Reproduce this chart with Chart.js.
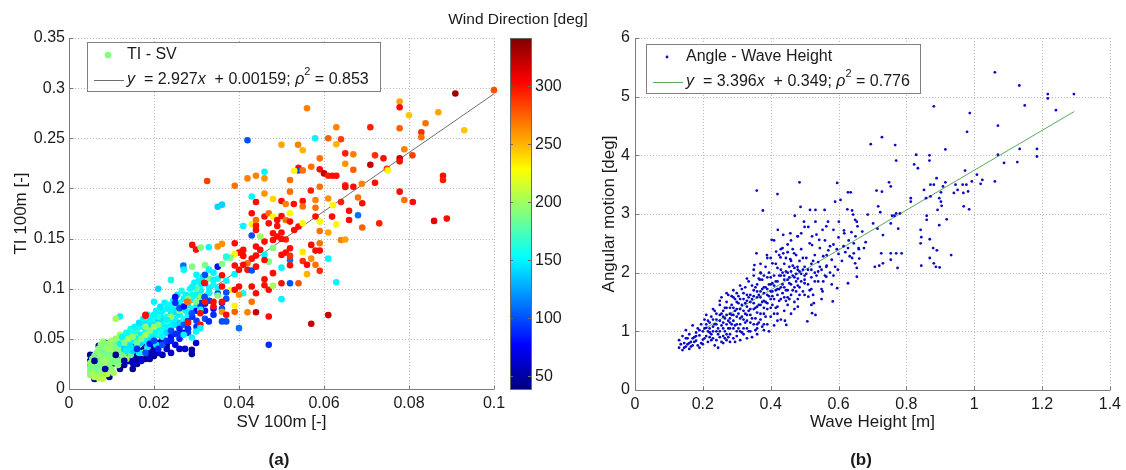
<!DOCTYPE html>
<html><head><meta charset="utf-8">
<script src="https://cdn.jsdelivr.net/npm/chart.js@4.4.1/dist/chart.umd.min.js"></script>
<style>
html,body{margin:0;padding:0;background:#fff;}
#wrap{position:relative;width:1126px;height:470px;overflow:hidden;}
#c1{position:absolute;left:0;top:0;}
#c2{position:absolute;left:590px;top:0;}
</style></head><body>
<div id="wrap"><canvas id="c1" width="590" height="470"></canvas><canvas id="c2" width="536" height="470"></canvas></div>
<script>
// ---- data ----
var svTicks = [0, 0.02, 0.04, 0.06, 0.08, 0.1];
var tiTicks = [0, 0.05, 0.1, 0.15, 0.2, 0.25, 0.3, 0.35];
var dirTicks = [50, 100, 150, 200, 250, 300];
var dirRange = [39, 341];
var waveTicks = [0, 0.2, 0.4, 0.6, 0.8, 1, 1.2, 1.4];
var angleTicks = [0, 1, 2, 3, 4, 5, 6];

// [SV, TI, wind direction]
var tiSvPoints = [
// dark blue along the lower edge
[0.005,0.034,45],[0.005,0.028,50],[0.005,0.024,45],[0.0055,0.020,55],[0.006,0.010,45],[0.0065,0.013,50],
[0.007,0.043,50],[0.007,0.027,55],[0.0075,0.036,45],[0.008,0.025,50],[0.0085,0.046,55],[0.0085,0.016,45],
[0.009,0.040,50],[0.009,0.022,48],[0.0095,0.012,45],[0.010,0.038,55],[0.010,0.024,50],[0.011,0.027,45],
[0.011,0.037,50],[0.012,0.020,45],[0.012,0.032,55],[0.013,0.024,50],[0.013,0.042,55],[0.014,0.028,50],
[0.014,0.036,45],[0.015,0.020,45],[0.015,0.030,55],[0.015,0.044,50],[0.016,0.025,45],[0.016,0.034,50],
[0.017,0.032,50],[0.017,0.040,55],[0.018,0.030,45],[0.018,0.045,50],[0.019,0.036,55],[0.019,0.042,45],
[0.020,0.040,50],[0.020,0.033,45],[0.021,0.046,55],[0.022,0.034,50],[0.022,0.050,45],
[0.015,0.026,60],[0.017,0.028,70],[0.019,0.030,55],[0.021,0.036,65],[0.023,0.040,60],[0.025,0.044,70],
[0.026,0.050,85],[0.028,0.056,95],[0.030,0.062,90],[0.032,0.070,100],[0.024,0.036,60],[0.026,0.040,55],
[0.010,0.040,45],[0.012,0.036,50],[0.016,0.030,50],[0.020,0.036,55],[0.023,0.044,50],
// green cluster near the origin
[0.005,0.014,195],[0.005,0.018,190],[0.005,0.022,185],[0.005,0.026,195],[0.0055,0.016,200],[0.0055,0.030,190],
[0.006,0.012,205],[0.006,0.020,195],[0.006,0.024,190],[0.006,0.033,185],[0.0065,0.015,200],[0.0065,0.028,195],
[0.0065,0.036,190],[0.007,0.011,205],[0.007,0.019,195],[0.007,0.023,190],[0.007,0.031,185],[0.007,0.040,195],
[0.0075,0.014,200],[0.0075,0.026,190],[0.0075,0.035,200],[0.0075,0.044,190],[0.008,0.010,210],[0.008,0.018,195],
[0.008,0.029,190],[0.008,0.038,185],[0.008,0.047,195],[0.0085,0.022,200],[0.0085,0.033,190],[0.0085,0.042,195],
[0.009,0.015,205],[0.009,0.026,195],[0.009,0.036,185],[0.009,0.045,190],[0.0095,0.030,195],[0.0095,0.040,200],
[0.010,0.020,195],[0.010,0.033,190],[0.010,0.044,195],[0.010,0.048,200],[0.0105,0.027,185],[0.0105,0.038,195],
[0.011,0.031,190],[0.011,0.042,195],[0.011,0.046,185],[0.0115,0.035,200],[0.012,0.040,190],[0.012,0.049,195],
[0.012,0.028,185],[0.013,0.044,190],[0.013,0.036,195],[0.014,0.048,190],[0.014,0.040,180],
[0.0105,0.016,200],[0.0115,0.024,195],[0.0125,0.034,190],[0.0135,0.030,200],[0.0145,0.034,185],[0.0155,0.040,195],
[0.0165,0.044,190],[0.0175,0.036,200],[0.0095,0.025,190],[0.0085,0.028,200],[0.0065,0.021,185],[0.0075,0.018,195],
[0.016,0.054,195],[0.014,0.056,190],[0.012,0.054,200],[0.011,0.050,195],
// a few dark blue among the green
[0.006,0.028,45],[0.0085,0.020,50],[0.011,0.034,45],[0.013,0.028,50],
// cyan band
[0.012,0.045,150],[0.013,0.050,160],[0.013,0.040,140],[0.014,0.052,155],[0.014,0.044,145],[0.015,0.048,150],
[0.015,0.056,160],[0.015,0.038,140],[0.016,0.050,150],[0.016,0.058,165],[0.016,0.042,145],[0.017,0.054,150],
[0.017,0.062,155],[0.017,0.046,140],[0.018,0.050,160],[0.018,0.058,150],[0.018,0.066,145],[0.019,0.054,155],
[0.019,0.062,150],[0.019,0.048,140],[0.020,0.058,150],[0.020,0.066,160],[0.020,0.052,145],[0.020,0.072,155],
[0.021,0.060,150],[0.021,0.068,140],[0.021,0.054,160],[0.022,0.064,150],[0.022,0.058,155],[0.022,0.070,145],
[0.022,0.078,150],[0.023,0.062,150],[0.023,0.072,160],[0.023,0.056,140],[0.024,0.066,150],[0.024,0.076,145],
[0.024,0.060,155],[0.025,0.070,150],[0.025,0.082,160],[0.025,0.064,145],[0.026,0.074,150],[0.026,0.086,155],
[0.026,0.066,140],[0.027,0.080,150],[0.027,0.070,160],[0.028,0.084,145],[0.028,0.075,150],[0.029,0.090,150],
[0.029,0.080,155],[0.030,0.094,150],[0.030,0.085,145],[0.031,0.098,150],[0.032,0.090,160],[0.033,0.101,150],
[0.034,0.104,155],
[0.0125,0.052,150],[0.0135,0.056,155],[0.0145,0.060,160],[0.0155,0.062,150],[0.0165,0.066,145],[0.0175,0.070,150],
[0.0185,0.074,155],[0.0195,0.070,160],[0.0205,0.078,150],[0.0215,0.082,145],[0.0225,0.086,150],[0.0235,0.084,155],
[0.0245,0.088,150],[0.0255,0.094,145],[0.0265,0.098,160],[0.0275,0.094,150],[0.0285,0.100,155],[0.0295,0.106,150],
[0.0305,0.108,150],[0.0315,0.112,145],[0.0195,0.064,140],[0.0215,0.074,150],[0.0235,0.066,150],[0.0255,0.076,145],
[0.0275,0.078,150],[0.0135,0.038,150],[0.0145,0.042,145],[0.0165,0.036,150],[0.0185,0.042,150],[0.0205,0.044,145],
[0.019,0.068,150],[0.021,0.072,160],[0.023,0.080,150],[0.025,0.078,145],[0.027,0.090,150],[0.029,0.094,155],
[0.031,0.104,150],[0.033,0.096,145],[0.035,0.100,150],[0.035,0.110,155],[0.037,0.108,150],[0.022,0.052,150],
[0.020,0.056,150],[0.018,0.048,150],
[0.013,0.046,190],[0.014,0.050,200],[0.015,0.052,195],[0.016,0.046,185],[0.017,0.050,190],[0.018,0.054,200],
[0.018,0.062,195],[0.019,0.058,190],[0.020,0.062,200],[0.021,0.064,190],[0.023,0.068,185],[0.024,0.072,195],
[0.026,0.078,190],[0.028,0.090,185],[0.031,0.092,195],[0.030,0.100,180],[0.033,0.110,190],
[0.016,0.040,90],[0.018,0.036,100],[0.019,0.045,80],[0.020,0.048,95],[0.021,0.040,85],[0.022,0.044,100],
[0.023,0.048,90],[0.024,0.052,80],[0.024,0.058,100],[0.025,0.055,90],[0.026,0.060,85],[0.027,0.064,100],
[0.027,0.056,80],[0.028,0.068,95],[0.029,0.072,90],[0.030,0.078,80],[0.031,0.082,100],[0.032,0.085,85],
[0.033,0.088,95],[0.034,0.080,80],[0.035,0.095,90],[0.036,0.086,80],[0.037,0.090,100],
[0.036,0.080,100],[0.034,0.074,90],[0.032,0.078,80],[0.030,0.068,95],[0.028,0.060,100],[0.026,0.054,90],
[0.024,0.048,85],
// upper, sparser part
[0.1,0.298,280],[0.0909,0.2946,330],[0.0778,0.2867,255],[0.0778,0.281,300],[0.080,0.273,245],[0.0869,0.276,255],
[0.093,0.258,245],[0.0839,0.265,270],[0.0829,0.256,290],[0.0829,0.251,270],[0.0778,0.260,275],[0.0709,0.261,295],
[0.056,0.280,265],[0.0629,0.261,265],[0.042,0.248,100],[0.0579,0.250,150],[0.061,0.250,275],[0.064,0.249,285],
[0.050,0.2435,255],[0.0539,0.2435,265],[0.055,0.238,250],[0.0629,0.244,250],[0.0789,0.239,265],[0.072,0.233,290],
[0.074,0.230,300],[0.0778,0.230,320],[0.0778,0.227,300],[0.0808,0.233,285],[0.065,0.235,295],[0.0669,0.234,265],
[0.059,0.230,270],[0.065,0.2246,260],[0.054,0.2206,300],[0.054,0.218,100],[0.053,0.2176,230],[0.055,0.218,270],
[0.0709,0.2236,320],[0.0748,0.2196,290],[0.075,0.218,230],[0.0669,0.2186,275],[0.057,0.2216,270],[0.059,0.219,300],
[0.060,0.215,320],[0.061,0.2127,295],[0.062,0.2127,300],[0.0629,0.2127,300],[0.0325,0.2074,285],[0.039,0.2027,270],
[0.042,0.210,265],[0.044,0.2127,265],[0.046,0.210,260],[0.046,0.2167,150],[0.052,0.2084,270],[0.072,0.2057,300],
[0.0689,0.2047,265],[0.065,0.203,290],[0.065,0.2015,300],[0.0669,0.2017,300],[0.0778,0.1968,300],[0.088,0.2127,300],
[0.088,0.2084,295],[0.0569,0.198,295],[0.059,0.2017,270],[0.052,0.1968,270],[0.046,0.195,260],[0.036,0.1838,140],
[0.043,0.192,150],[0.044,0.1865,300],[0.048,0.1895,240],[0.050,0.1875,300],[0.051,0.1845,265],[0.0529,0.1845,300],
[0.055,0.1875,300],[0.055,0.182,270],[0.058,0.1885,265],[0.061,0.190,260],[0.064,0.1865,295],[0.068,0.191,270],
[0.069,0.1852,300],[0.0789,0.1885,270],[0.0809,0.1865,300],[0.0859,0.1676,310],[0.0889,0.1699,300],[0.073,0.1652,295],
[0.069,0.161,275],[0.068,0.1732,110],[0.0659,0.1778,300],[0.0659,0.1685,300],[0.0621,0.1832,230],[0.0619,0.1719,300],
[0.0629,0.1642,230],[0.058,0.172,300],[0.058,0.1808,270],[0.059,0.1669,230],[0.059,0.1576,270],[0.061,0.156,255],
[0.064,0.1486,265],[0.065,0.149,255],[0.059,0.1453,270],[0.057,0.1437,300],[0.058,0.138,300],[0.059,0.138,300],
[0.055,0.1367,235],[0.057,0.130,260],[0.055,0.1277,290],[0.056,0.1238,300],[0.058,0.1238,270],[0.056,0.1145,250],
[0.059,0.1178,290],[0.061,0.130,150],[0.0629,0.1065,150],[0.054,0.1055,280],[0.052,0.1055,100],[0.050,0.1055,300],
[0.050,0.0896,150],[0.061,0.0737,320],[0.057,0.065,320],[0.047,0.044,90],[0.040,0.0607,110],[0.047,0.0723,300],
[0.044,0.0766,320],[0.042,0.0766,265],[0.043,0.087,270],[0.039,0.077,275],[0.039,0.083,230],[0.038,0.099,230],
[0.039,0.099,300],[0.040,0.1022,300],[0.041,0.0955,160],[0.040,0.094,260],[0.043,0.1022,300],[0.044,0.0955,300],
[0.046,0.1035,300],[0.047,0.099,300],[0.048,0.103,200],[0.046,0.1095,300],[0.048,0.1155,300],[0.050,0.121,150],
[0.050,0.1337,300],[0.051,0.136,300],[0.052,0.1287,110],[0.052,0.1234,300],[0.052,0.1327,290],[0.052,0.1403,300],
[0.051,0.149,295],[0.050,0.1496,300],[0.048,0.1486,300],[0.046,0.147,300],[0.044,0.142,300],[0.045,0.1387,300],
[0.044,0.133,300],[0.043,0.130,300],[0.042,0.1254,270],[0.041,0.1238,300],[0.042,0.1188,300],[0.043,0.1181,100],
[0.044,0.122,300],[0.041,0.1327,300],[0.040,0.136,300],[0.039,0.1453,300],[0.039,0.1347,230],[0.038,0.131,190],
[0.037,0.131,180],[0.039,0.1231,300],[0.039,0.1145,150],[0.040,0.1188,300],[0.036,0.1135,300],[0.035,0.122,80],
[0.035,0.142,260],[0.036,0.1447,260],[0.037,0.132,160],[0.043,0.1642,230],[0.041,0.1626,150],[0.043,0.153,100],
[0.044,0.1586,300],[0.044,0.163,300],[0.044,0.1685,270],[0.043,0.1752,300],[0.046,0.172,300],[0.047,0.1752,270],
[0.048,0.172,230],[0.047,0.1652,300],[0.049,0.1685,300],[0.049,0.1626,300],[0.050,0.1725,300],[0.051,0.1685,270],
[0.052,0.1752,230],[0.052,0.1669,300],[0.053,0.1586,300],[0.054,0.162,300],[0.055,0.1652,230],[0.050,0.156,300],
[0.049,0.152,300],[0.048,0.1553,300],[0.045,0.152,200],[0.048,0.1407,190],[0.046,0.1337,150],[0.047,0.127,190],
[0.046,0.1287,300],[0.041,0.1387,300],[0.036,0.1247,190],[0.036,0.1022,300],[0.035,0.0932,190],[0.037,0.0962,100],
[0.036,0.087,300],[0.034,0.087,300],[0.0329,0.0955,150],[0.0319,0.0916,100],[0.0309,0.0856,90],[0.0309,0.079,150],
[0.0299,0.087,190],[0.028,0.087,260],[0.0289,0.0756,100],[0.0309,0.0756,300],[0.034,0.0823,300],[0.036,0.077,260],
[0.037,0.074,300],[0.036,0.0674,100],[0.037,0.0674,100],[0.0329,0.0674,90],[0.0309,0.064,300],[0.0309,0.0607,150],
[0.0299,0.0458,60],[0.0289,0.039,50],[0.0273,0.040,60],[0.0289,0.0348,50],[0.0289,0.0514,150],[0.028,0.060,90],
[0.027,0.054,150],[0.0299,0.0574,150],[0.029,0.102,150],[0.029,0.1437,300],[0.0299,0.139,300],[0.031,0.141,190],
[0.0329,0.1413,150],[0.035,0.1818,140],[0.0269,0.123,110],[0.027,0.119,150],[0.029,0.122,190],[0.030,0.1138,150],
[0.032,0.1237,190],[0.032,0.1138,100],[0.0329,0.119,150],[0.034,0.116,150],[0.034,0.1088,150],[0.032,0.1055,110],
[0.024,0.1088,160],[0.021,0.100,140],[0.020,0.087,150],[0.012,0.0723,150],[0.011,0.070,200],[0.018,0.073,300],
[0.020,0.074,150],[0.025,0.0916,80],[0.025,0.086,90],[0.026,0.0806,100],[0.027,0.0823,80],[0.024,0.079,150],
[0.023,0.069,150],[0.018,0.074,300],[0.0278,0.087,270],[0.028,0.066,300],[0.032,0.087,300],[0.0318,0.106,300]
];
var tiFitLine = [[0.0052, 0.0168], [0.1, 0.2943]];

// [wave height, angular motion]
var angleWavePoints = [
[1.061,5.415],[1.133,5.19],[1.217,5.045],[1.217,4.97],[1.294,5.045],[1.149,4.85],[1.241,4.77],[0.881,4.835],
[0.987,4.72],[1.07,4.505],[0.979,4.40],[0.695,4.19],[0.728,4.31],[0.767,4.175],[0.77,3.91],[0.829,4.01],
[0.868,4.0],[0.915,4.10],[0.868,3.91],[0.823,3.845],[0.834,3.78],[1.134,4.11],[1.185,4.11],[1.185,3.98],
[1.127,3.885],[1.088,3.87],[1.07,4.01],[0.973,3.74],[1.008,3.67],[1.024,3.58],[1.061,3.555],[1.019,3.515],
[0.993,3.555],[0.977,3.50],[0.966,3.50],[0.889,3.61],[0.871,3.50],[0.881,3.50],[0.915,3.54],[0.908,3.47],
[0.945,3.50],[0.951,3.41],[0.94,3.36],[0.968,3.36],[0.982,3.385],[0.902,3.37],[0.897,3.27],[0.902,3.21],
[0.904,3.14],[0.871,3.30],[0.858,3.27],[0.813,3.27],[0.813,3.21],[0.852,3.41],[0.969,3.13],[0.985,3.08],
[0.892,3.07],[0.919,2.91],[0.897,2.81],[0.86,2.97],[0.86,2.90],[0.842,2.73],[0.844,2.605],[0.842,2.50],
[0.879,2.42],[0.89,2.38],[0.869,2.25],[0.881,2.16],[0.887,2.10],[0.898,2.09],[0.844,2.12],[0.932,2.30],
[0.869,2.57],[0.686,2.99],[0.712,3.40],[0.728,3.38],[0.717,3.13],[0.723,3.03],[0.702,2.84],[0.715,2.75],
[0.731,2.64],[0.749,3.54],[0.754,3.47],[0.758,2.97],[0.765,2.97],[0.77,3.01],[0.781,3.01],[0.776,2.75],
[0.754,2.84],[0.786,2.33],[0.77,2.33],[0.754,2.33],[0.754,2.22],[0.731,2.16],[0.72,2.12],[0.707,2.10],
[0.774,2.08],[0.726,2.33],[0.596,3.53],[0.606,3.24],[0.59,3.21],[0.485,3.54],[0.359,3.40],[0.42,3.34],
[0.377,3.06],[0.488,3.12],[0.516,3.07],[0.532,3.07],[0.559,3.07],[0.471,2.97],[0.628,3.37],[0.636,3.37],
[0.626,3.08],[0.64,3.06],[0.643,2.99],[0.649,2.90],[0.654,2.87],[0.656,2.79],[0.616,2.72],[0.617,2.67],
[0.638,2.69],[0.601,2.87],[0.569,2.87],[0.564,2.79],[0.585,2.73],[0.553,2.73],[0.532,2.87],[0.498,2.87],
[0.511,2.78],[0.49,2.67],[0.479,2.62],[0.458,2.67],[0.421,2.73],[0.437,2.645],[0.403,2.56],[0.522,2.62],
[0.543,2.56],[0.522,2.47],[0.675,2.42],[0.659,2.42],[0.661,2.24],[0.645,2.50],[0.645,2.33],[0.628,2.42],
[0.633,2.28],[0.649,2.16],[0.654,2.08],[0.654,1.93],[0.628,1.82],[0.598,2.05],[0.596,1.735],[0.583,1.51],
[0.564,2.10],[0.564,1.93],[0.553,1.68],[0.527,1.48],[0.532,1.28],[0.522,1.31],[0.511,1.59],[0.508,1.17],
[0.442,1.18],[0.446,1.11],[0.5,1.82],[0.479,2.10],[0.469,2.33],[0.458,2.23],[0.437,2.33],[0.429,2.26],
[0.416,2.36],[0.405,2.16],[0.389,2.30],[0.358,2.33],[0.352,2.13],[0.371,1.99],[0.368,1.88],
[0.13,0.85],[0.13,0.72],[0.135,0.78],[0.14,0.68],[0.14,0.92],[0.145,0.80],[0.15,0.74],[0.15,1.02],
[0.155,0.88],[0.16,0.70],[0.16,0.95],[0.165,0.82],[0.17,1.10],[0.17,0.76],[0.175,0.90],[0.18,0.98],
[0.18,0.84],[0.185,1.05],[0.19,0.72],[0.19,0.93],[0.195,1.12],[0.2,0.86],[0.2,1.0],[0.2,0.78],
[0.205,1.20],[0.21,0.92],[0.21,1.06],[0.215,0.82],[0.22,1.15],[0.22,0.98],[0.225,1.25],[0.23,0.88],
[0.23,1.08],[0.235,0.76],[0.24,1.30],[0.24,1.0],[0.245,0.72],[0.25,1.18],[0.25,1.45],[0.25,0.90],
[0.255,1.58],[0.26,1.05],[0.26,1.35],[0.26,0.80],[0.265,1.22],[0.27,1.50],[0.27,0.95],[0.27,1.12],
[0.275,1.62],[0.28,1.30],[0.28,0.82],[0.28,1.05],[0.285,1.45],[0.29,1.18],[0.29,1.58],[0.29,0.88],
[0.295,1.35],[0.3,1.0],[0.3,1.25],[0.3,1.65],[0.305,1.48],[0.31,1.12],[0.31,0.85],[0.31,1.38],
[0.315,1.72],[0.32,1.20],[0.32,1.55],[0.32,0.95],[0.325,1.30],[0.33,1.62],[0.33,1.05],[0.33,1.42],
[0.335,1.85],[0.34,1.15],[0.34,1.50],[0.34,1.28],[0.345,0.90],[0.35,1.70],[0.35,1.38],[0.35,1.95],
[0.355,1.22],[0.36,1.58],[0.36,1.80],[0.36,1.05],[0.365,1.45],[0.37,1.68],[0.37,2.0],[0.37,1.30],
[0.375,1.88],[0.38,1.52],[0.38,1.12],[0.38,1.75],[0.385,2.10],[0.39,1.62],[0.39,1.38],[0.39,1.92],
[0.395,1.0],[0.4,1.80],[0.4,1.55],[0.4,2.25],[0.405,1.68],[0.41,1.30],[0.41,1.95],[0.41,2.55],
[0.415,1.85],[0.42,1.62],[0.42,2.08],[0.42,1.42],[0.425,2.30],[0.43,1.75],[0.43,1.95],[0.43,1.20],
[0.435,2.42],[0.44,1.88],[0.44,1.58],[0.44,2.15],[0.445,1.70],[0.45,2.0],[0.45,2.35],[0.45,1.45],
[0.455,1.82],[0.46,2.20],[0.46,1.62],[0.46,2.55],[0.465,1.95],[0.47,1.75],[0.47,2.08],[0.47,1.38],
[0.475,2.30],[0.48,1.90],[0.48,2.62],[0.48,1.55],[0.485,2.02],[0.49,1.85],[0.49,2.40],[0.495,1.68],
[0.5,2.10],[0.5,1.95],[0.5,2.78],[0.505,2.25],[0.51,1.80],[0.51,2.05],[0.515,2.50],[0.52,1.92],
[0.52,2.15],[0.525,1.62],[0.53,2.30],[0.53,2.0],[0.535,2.65],[0.54,1.85],[0.54,2.18],[0.545,2.42],
[0.55,2.05],[0.55,1.72],[0.555,2.28],[0.56,2.55],[0.56,1.95],[0.565,2.12],[0.57,2.38],[0.575,2.0],
[0.58,2.22],[0.585,2.48],[0.59,2.10],[0.6,2.32],[0.6,2.60],[0.61,2.20],[0.615,2.45],[0.62,2.35],
[0.63,2.55],[0.64,2.25],[0.65,2.62],[0.66,2.40],[0.67,2.70],[0.68,2.52],
[0.21,1.12],[0.23,1.20],[0.24,0.85],[0.25,1.0],[0.26,1.15],[0.27,1.28],[0.27,0.85],[0.28,1.15],
[0.28,1.40],[0.29,1.05],[0.29,1.28],[0.3,1.12],[0.3,1.38],[0.3,0.92],[0.31,1.22],[0.31,1.55],
[0.32,1.05],[0.32,1.35],[0.32,1.65],[0.33,1.18],[0.33,1.52],[0.34,1.38],[0.34,1.62],[0.34,1.0],
[0.35,1.12],[0.35,1.48],[0.35,1.60],[0.36,1.32],[0.36,1.68],[0.37,1.20],[0.37,1.45],[0.37,1.58],
[0.38,1.30],[0.38,1.65],[0.38,1.95],[0.39,1.48],[0.39,1.72],[0.4,1.25],[0.4,1.68],[0.4,1.92],
[0.41,1.55],[0.41,1.78],[0.42,1.85],[0.42,1.72],[0.43,1.55],[0.43,2.05],[0.44,1.75],[0.44,1.95],
[0.45,1.70],[0.45,1.88],[0.46,1.80],[0.46,2.02],[0.47,1.92],[0.48,2.05],[0.48,1.78],[0.49,1.98],
[0.5,1.88],[0.52,2.05],[0.53,1.85],[0.54,2.02],[0.22,0.90],[0.23,1.0],[0.24,1.12],[0.25,1.28],
[0.26,0.92],[0.27,1.40],[0.28,0.95],[0.29,1.40],[0.31,1.00],[0.33,0.88],[0.36,0.95],[0.39,1.12],
[0.41,1.10],[0.44,1.35],[0.47,1.50],[0.19,1.02],[0.18,0.92],[0.17,0.88],[0.16,0.80],[0.15,0.88],
[0.22,1.05],[0.24,1.20],[0.26,1.25],[0.28,1.22],[0.3,1.50],[0.33,1.28],[0.36,1.42],[0.38,1.40],
[0.4,1.40],[0.42,1.30],[0.45,1.58],[0.5,1.62],[0.52,1.72],
[0.255,1.10],[0.265,1.0],[0.275,1.18],[0.285,1.28],[0.295,1.10],[0.305,1.30],[0.315,1.45],[0.325,1.15],
[0.335,1.35],[0.345,1.55],[0.355,1.40],[0.365,1.62],[0.375,1.50],[0.385,1.75],[0.395,1.60],[0.405,1.82],
[0.415,1.70],[0.425,1.95],[0.435,1.80],[0.445,2.02],[0.455,1.92],[0.465,2.12],[0.475,1.98],[0.485,2.20],
[0.495,2.05],[0.245,0.95],[0.255,0.82],[0.265,1.40],[0.275,0.90],[0.285,1.60],[0.295,0.82],[0.305,1.60],
[0.315,0.98],[0.325,1.75],[0.335,1.00],[0.345,1.78],[0.355,1.02],[0.365,1.90],[0.375,1.08],[0.385,1.25],
[0.395,2.0],[0.405,1.45],[0.415,2.15],[0.425,1.52],[0.435,1.65],[0.445,2.25],[0.455,1.55],[0.465,2.40],
[0.475,1.68],[0.485,1.75],[0.225,0.95],[0.215,1.0],[0.205,0.88],[0.195,0.80],[0.185,0.76],[0.175,0.82],
[0.165,0.74],[0.155,0.78],[0.145,0.72],[0.235,1.12],
[0.205,1.05],[0.215,1.18],[0.225,0.85],[0.235,1.35],[0.245,1.05],[0.255,1.30],[0.265,0.88],[0.275,1.05],
[0.285,1.12],[0.295,1.55],[0.305,1.05],[0.315,1.25],[0.325,1.48],[0.335,1.58],[0.345,1.22],[0.355,1.75],
[0.365,1.15],[0.375,1.72],[0.385,1.50],[0.395,1.80],[0.405,1.60],[0.415,1.40],[0.425,1.72],[0.435,2.0],
[0.445,1.52],[0.455,2.10],[0.465,1.70],[0.475,1.85],[0.485,1.62],[0.495,2.25],[0.505,1.98],[0.515,1.70],
[0.525,2.20],[0.535,1.95],[0.545,2.10],[0.555,1.85],[0.565,2.30],[0.575,2.45],[0.585,1.95],[0.595,2.40],
[0.27,1.65],[0.29,1.70],[0.31,1.78],[0.33,1.90],[0.35,2.05],[0.37,2.15],[0.39,2.25],[0.43,2.40],
[0.45,2.48],[0.23,1.38],[0.25,1.52],[0.21,1.28],[0.36,1.12],[0.38,1.02],[0.42,1.18],[0.46,1.30],
[0.48,1.42],[0.52,1.45],[0.55,1.55],[0.58,1.80]
];
var angleFitLine = [[0.2, 1.028], [1.295, 4.747]];

// ---- helpers ----
var FONT = '"Liberation Sans", Arial, sans-serif';
var AXIS_COL = '#7a7a7a';
var GRID_COL = '#b8b8b8';

function clamp01(v) { return Math.max(0, Math.min(1, v)); }
function jet(v) {
  var t = clamp01((v - dirRange[0]) / (dirRange[1] - dirRange[0]));
  var r = clamp01(1.5 - Math.abs(4 * t - 3));
  var g = clamp01(1.5 - Math.abs(4 * t - 2));
  var b = clamp01(1.5 - Math.abs(4 * t - 1));
  return 'rgb(' + Math.round(r * 255) + ',' + Math.round(g * 255) + ',' + Math.round(b * 255) + ')';
}

function fixedTicks(list) {
  return function (scale) { scale.ticks = list.map(function (v) { return { value: v }; }); };
}

function axisOpts(min, max, list, fit, pad) {
  return {
    type: 'linear', min: min, max: max,
    afterBuildTicks: fixedTicks(list),
    afterFit: fit,
    grid: { display: false, drawTicks: false },
    border: { display: false },
    ticks: {
      autoSkip: false, maxRotation: 0, padding: pad, color: '#1a1a1a',
      font: { family: FONT, size: 16 },
      callback: function (v) { return String(v); }
    }
  };
}

// dotted grid, solid left/bottom axes with inward ticks
var framePlugin = {
  id: 'frame',
  beforeDatasetsDraw: function (chart) {
    var ctx = chart.ctx, a = chart.chartArea, xs = chart.scales.x, ys = chart.scales.y;
    ctx.save();
    ctx.strokeStyle = GRID_COL; ctx.lineWidth = 1; ctx.setLineDash([1, 2]);
    xs.ticks.forEach(function (t) {
      var px = Math.round(xs.getPixelForValue(t.value)) + 0.5;
      if (px < a.left + 2) return;
      ctx.beginPath(); ctx.moveTo(px, a.top); ctx.lineTo(px, a.bottom); ctx.stroke();
    });
    ys.ticks.forEach(function (t) {
      var py = Math.round(ys.getPixelForValue(t.value)) + 0.5;
      if (py > a.bottom - 2) return;
      ctx.beginPath(); ctx.moveTo(a.left, py); ctx.lineTo(a.right, py); ctx.stroke();
    });
    ctx.setLineDash([]);
    ctx.strokeStyle = AXIS_COL;
    var l = Math.round(a.left) + 0.5, b = Math.round(a.bottom) + 0.5;
    ctx.beginPath(); ctx.moveTo(l, a.top); ctx.lineTo(l, b); ctx.lineTo(a.right, b); ctx.stroke();
    xs.ticks.forEach(function (t) {
      var px = Math.round(xs.getPixelForValue(t.value)) + 0.5;
      ctx.beginPath(); ctx.moveTo(px, b); ctx.lineTo(px, b - 4); ctx.stroke();
    });
    ys.ticks.forEach(function (t) {
      var py = Math.round(ys.getPixelForValue(t.value)) + 0.5;
      ctx.beginPath(); ctx.moveTo(l, py); ctx.lineTo(l + 4, py); ctx.stroke();
    });
    ctx.restore();
  },
  afterDraw: function (chart, args, o) {
    var ctx = chart.ctx, a = chart.chartArea;
    ctx.save();
    ctx.fillStyle = '#1a1a1a';
    ctx.textAlign = 'center'; ctx.textBaseline = 'middle';
    ctx.font = '17px ' + FONT;
    ctx.fillText(o.xTitle, (a.left + a.right) / 2, 422);
    ctx.save();
    ctx.translate(o.yTitleX, (a.top + a.bottom) / 2);
    ctx.rotate(-Math.PI / 2);
    ctx.fillText(o.yTitle, 0, 0);
    ctx.restore();
    ctx.font = 'bold 17px ' + FONT;
    ctx.fillText(o.label, o.labelX, 460);

    // legend box
    var L = o.legend;
    ctx.fillStyle = '#fff'; ctx.strokeStyle = '#808080'; ctx.lineWidth = 1;
    ctx.fillRect(L.x, L.y, L.w, L.h);
    ctx.strokeRect(L.x + 0.5, L.y + 0.5, L.w, L.h);
    var r1 = L.y + 13, r2 = L.y + 38;
    ctx.fillStyle = L.markerColor;
    ctx.beginPath(); ctx.arc(L.markerX, r1, L.markerR, 0, Math.PI * 2); ctx.fill();
    ctx.strokeStyle = L.lineColor;
    ctx.beginPath(); ctx.moveTo(L.lineX0, r2 + 0.5); ctx.lineTo(L.lineX1, r2 + 0.5); ctx.stroke();
    ctx.fillStyle = '#1a1a1a'; ctx.textAlign = 'left'; ctx.textBaseline = 'middle';
    ctx.font = '16px ' + FONT;
    ctx.fillText(L.name, L.textX, r1);
    var x = L.textX;
    L.parts.forEach(function (p) {
      ctx.font = (p.it ? 'italic ' : '') + (p.sup ? '11px ' : '16px ') + FONT;
      ctx.fillText(p.t, x, p.sup ? r2 - 8 : r2);
      x += ctx.measureText(p.t).width;
    });

    // colour bar
    if (o.colorbar) {
      var cb = chart.scales.cb;
      var x0 = 510, w = 21;
      var top = cb.getPixelForValue(dirRange[1]), bot = cb.getPixelForValue(dirRange[0]);
      var g = ctx.createLinearGradient(0, bot, 0, top);
      for (var i = 0; i <= 40; i++) {
        g.addColorStop(i / 40, jet(dirRange[0] + (dirRange[1] - dirRange[0]) * i / 40));
      }
      ctx.fillStyle = g;
      ctx.fillRect(x0, top, w, bot - top);
      ctx.strokeStyle = '#6a6a6a';
      ctx.strokeRect(x0 + 0.5, top + 0.5, w, bot - top);
      ctx.fillStyle = '#1a1a1a'; ctx.font = '16px ' + FONT;
      dirTicks.forEach(function (v) {
        var py = Math.round(cb.getPixelForValue(v)) + 0.5;
        ctx.beginPath();
        ctx.moveTo(x0, py); ctx.lineTo(x0 + 3, py);
        ctx.moveTo(x0 + w, py); ctx.lineTo(x0 + w - 3, py);
        ctx.stroke();
        ctx.fillText(String(v), x0 + w + 4, py);
      });
      ctx.textAlign = 'center'; ctx.font = '15.5px ' + FONT;
      ctx.fillText('Wind Direction [deg]', 518, 20);
    }
    ctx.restore();
  }
};

// ---- panel (a) ----
new Chart(document.getElementById('c1').getContext('2d'), {
  type: 'scatter',
  data: {
    datasets: [{
      label: 'TI - SV',
      data: tiSvPoints.map(function (p) { return { x: p[0], y: p[1] }; }),
      pointRadius: 3.3, pointBorderWidth: 0,
      pointBackgroundColor: tiSvPoints.map(function (p) { return jet(p[2]); }),
      clip: false
    }, {
      type: 'line',
      label: 'fit',
      data: tiFitLine.map(function (p) { return { x: p[0], y: p[1] }; }),
      borderColor: '#6e6e6e', borderWidth: 1, pointRadius: 0, fill: false
    }]
  },
  options: {
    responsive: false, animation: false, devicePixelRatio: 1,
    layout: { padding: { left: 0, top: 38, right: 96, bottom: 51 } },
    scales: {
      x: axisOpts(0, 0.1, svTicks, function (s) { s.height = 30; }, 5),
      y: axisOpts(0, 0.35, tiTicks, function (s) { s.width = 69; }, 4),
      cb: { type: 'linear', display: false, position: 'right', min: dirRange[0], max: dirRange[1] }
    },
    plugins: {
      legend: { display: false }, tooltip: { enabled: false },
      frame: {
        xTitle: 'SV 100m [-]', yTitle: 'TI 100m [-]', yTitleX: 21, label: '(a)', labelX: 279, colorbar: true,
        legend: {
          x: 87, y: 42, w: 293, h: 49, markerColor: jet(190), markerR: 3.3, markerX: 108,
          lineColor: '#6e6e6e', lineX0: 94, lineX1: 124, textX: 127, name: 'TI - SV',
          parts: [{ t: 'y', it: true }, { t: '  = 2.927' }, { t: 'x', it: true }, { t: '  + 0.00159; ' },
                  { t: 'ρ', it: true }, { t: '2', sup: true }, { t: ' = 0.853' }]
        }
      }
    }
  },
  plugins: [framePlugin]
});

// ---- panel (b) ----
new Chart(document.getElementById('c2').getContext('2d'), {
  type: 'scatter',
  data: {
    datasets: [{
      label: 'Angle - Wave Height',
      data: angleWavePoints.map(function (p) { return { x: p[0], y: p[1] }; }),
      pointRadius: 1.4, pointBorderWidth: 0, pointBackgroundColor: '#0a0ac8',
      clip: false
    }, {
      type: 'line',
      label: 'fit',
      data: angleFitLine.map(function (p) { return { x: p[0], y: p[1] }; }),
      borderColor: '#5aaa5a', borderWidth: 1, pointRadius: 0, fill: false
    }]
  },
  options: {
    responsive: false, animation: false, devicePixelRatio: 1,
    layout: { padding: { left: 0, top: 38, right: 16, bottom: 50 } },
    scales: {
      x: axisOpts(0, 1.4, waveTicks, function (s) { s.height = 30; }, 5),
      y: axisOpts(0, 6, angleTicks, function (s) { s.width = 45; }, 5)
    },
    plugins: {
      legend: { display: false }, tooltip: { enabled: false },
      frame: {
        xTitle: 'Wave Height [m]', yTitle: 'Angular motion [deg]', yTitleX: 19, label: '(b)', labelX: 271, colorbar: false,
        legend: {
          x: 56, y: 44, w: 274, h: 49, markerColor: '#0a0ac8', markerR: 1.4, markerX: 77,
          lineColor: '#5aaa5a', lineX0: 63, lineX1: 93, textX: 96, name: 'Angle - Wave Height',
          parts: [{ t: 'y', it: true }, { t: '  = 3.396' }, { t: 'x', it: true }, { t: '  + 0.349; ' },
                  { t: 'ρ', it: true }, { t: '2', sup: true }, { t: ' = 0.776' }]
        }
      }
    }
  },
  plugins: [framePlugin]
});
</script>
</body></html>
